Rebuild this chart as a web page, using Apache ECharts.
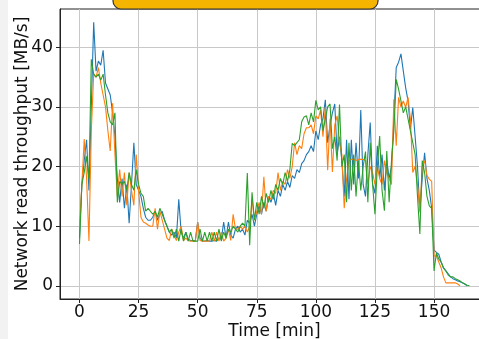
<!DOCTYPE html>
<html><head><meta charset="utf-8">
<script src="https://cdn.jsdelivr.net/npm/echarts@6/dist/echarts.min.js"></script>
<style>html,body{margin:0;padding:0;background:#fff}#c{width:479px;height:339px}</style>
</head><body><div id="c"></div>
<script>
const xTicks = [0, 25, 50, 75, 100, 125, 150];
const yTicks = [0, 10, 20, 30, 40];
const blue = [8,17,21,24.5,16,30,44.2,36,37.7,37,39.5,34,33,32,29,25,18,14,18,13,17,10.5,17,24,17,16,15,13,11.5,11,11,11.5,12.5,11,12,12.5,11,10,9,8.5,9,8,14.5,9,8,9,7.8,7.6,7.6,7.6,10.7,8,7.5,7.5,7.6,7.5,7.5,7.6,7.5,8,7.8,10.7,8,10.7,8.5,8,9.5,10,9,9.5,8.5,11,10.5,12,10,12,13.5,12,14,12.5,15,14,15.5,13.5,16,15,17,16,17.5,16.5,18.5,18,19.5,19,20.5,21,22,22.5,23.5,22.5,26,24.5,27,28,31.2,24,27,29,30.5,22,25,21,15,24.5,14.5,24.5,17,24,18,29.5,17,15,22,27.4,17,15.5,23.5,18,22,16,21,18,20,28,36.6,37.5,38.9,36,33.2,31,26.3,29.9,25,20,12.6,18,22.3,18,16,13,6,5.6,5.3,4,3,2.5,2,1.5,1.2,1,0.8,0.7,0.5,0.3,0];
const orange = [10,17,24.6,18,7.5,26,35.5,35,36.6,34,32,30,26,22.6,30.6,22,15,19.5,15,19,13.5,19,16,13.5,22,16,11.5,10.7,10.5,10.2,10,10,13,9.5,12.5,11,9.5,8,7.6,9.5,8.5,7.6,9,10,7.6,8,7.6,7.5,7.5,7.5,10.7,7.6,7.5,7.5,7.5,7.5,9,7.5,9,7.5,9,7.5,8,9.5,7.6,12,9.5,9.5,10,9.5,10,9,10,14.5,11,12.5,14,12,18.3,12.5,15,14.5,16,15.5,19,16,17.5,17,19.5,18,20,24,22,23.5,23,25.5,26.5,26.5,27,25.5,28.5,28,29.5,25,30,19.4,28,19.1,27,28.5,24,22,13,18,21,21.2,21.2,21,21.2,21.2,21.2,21,17,20,19,17,20,18,17,21,19,18,17,31.3,23.5,31.6,30,31,29.9,31.6,28,19,20,17,12.3,20,21,18.5,17.9,17.5,5,5,4,3,1.5,0.5,0.5,0.5,0.5,0.5,0.3,0];
const green = [7,17,19,21.7,17.9,38,35.5,35,35.5,34.5,35.5,32,29,27.5,27,29,14,17.5,17,17.5,16,19,17,16,19.5,17,15.5,15,12.5,13,12.5,12,12.5,11.5,13,12,11,10,9,9.5,8,9.5,7.5,9.5,7.5,9,7.5,9,7.5,7.5,7.5,9.5,7.5,9,7.5,9,7.5,9,7.5,9.5,7.5,9,8,9.5,9,10,9.5,9,10,10.5,10,18.9,6.8,15.7,11,14,12,15,13,15.5,14,16,14.5,17,16,18,17,19,17.5,19.5,23.9,23.5,24,24.5,27.5,28.3,28.5,27,29,27.5,31.1,29.5,30,26,28,30,30.5,23,25,21,30.4,20,22,14,24,16,22,15,21,16,20,22.5,14,24,17,12,20,25.1,16,12.6,22.6,14,21,26,34.6,33,31,29,30,28,26,24,22,15,8.7,21,19,15,13.4,13,2.5,5.5,4.5,4,3,2.5,1.8,1.5,1.5,1.2,1,0.8,0.5,0.3,0.1,0];

function pairs(a){ return a.map((v,i)=>[i,v]); }
const font = 'DejaVu Sans';
const chart = echarts.init(document.getElementById('c'), null, {renderer:'canvas'});
chart.setOption({
  animation:false,
  backgroundColor:'#ffffff',
  grid:{left:60, top:9, right:-10, bottom:40, containLabel:false, outerBoundsMode:'none',
    show:true, borderColor:'#222', borderWidth:1, backgroundColor:'transparent'},
  xAxis:{type:'value', min:-8.25, max:173.25,
    name:'Time [min]', nameLocation:'middle', nameGap:24, nameMoveOverlap:false,
    nameTextStyle:{fontFamily:font, fontSize:17, color:'#111'},
    axisLine:{show:true, onZero:false, lineStyle:{color:'#222', width:1}},
    axisTick:{show:true, length:4, inside:false, customValues:xTicks, lineStyle:{color:'#222'}},
    axisLabel:{customValues:xTicks, fontFamily:font, fontSize:17, color:'#111', margin:5},
    splitLine:{show:true, lineStyle:{color:'#c8c8c8', width:1}}},
  yAxis:{type:'value', min:-2.21, max:46.42,
    name:'Network read throughput [MB/s]', nameLocation:'middle', nameGap:29, nameMoveOverlap:false,
    nameTextStyle:{fontFamily:font, fontSize:17, color:'#111'},
    axisLine:{show:true, onZero:false, lineStyle:{color:'#222', width:1}},
    axisTick:{show:true, length:4, customValues:yTicks, lineStyle:{color:'#222'}},
    axisLabel:{customValues:yTicks, fontFamily:font, fontSize:17, color:'#111', margin:7},
    splitLine:{show:true, lineStyle:{color:'#c8c8c8', width:1}}},
  series:[
    {type:'line', data:pairs(blue), showSymbol:false, lineStyle:{color:'#1f77b4', width:1.1}, itemStyle:{color:'#1f77b4'}},
    {type:'line', data:pairs(orange), showSymbol:false, lineStyle:{color:'#ff7f0e', width:1.1}, itemStyle:{color:'#ff7f0e'}},
    {type:'line', data:pairs(green), showSymbol:false, lineStyle:{color:'#2ca02c', width:1.1}, itemStyle:{color:'#2ca02c'}}
  ],
  graphic:[
    {type:'rect', shape:{x:0,y:0,width:8,height:339}, style:{fill:'#f2f2f2'}, z:-1},
    {type:'rect', shape:{x:113,y:-20,width:265,height:29,r:8}, style:{fill:'#f5b400', stroke:'#333', lineWidth:1.2}, z:100}
  ]
});
</script></body></html>
